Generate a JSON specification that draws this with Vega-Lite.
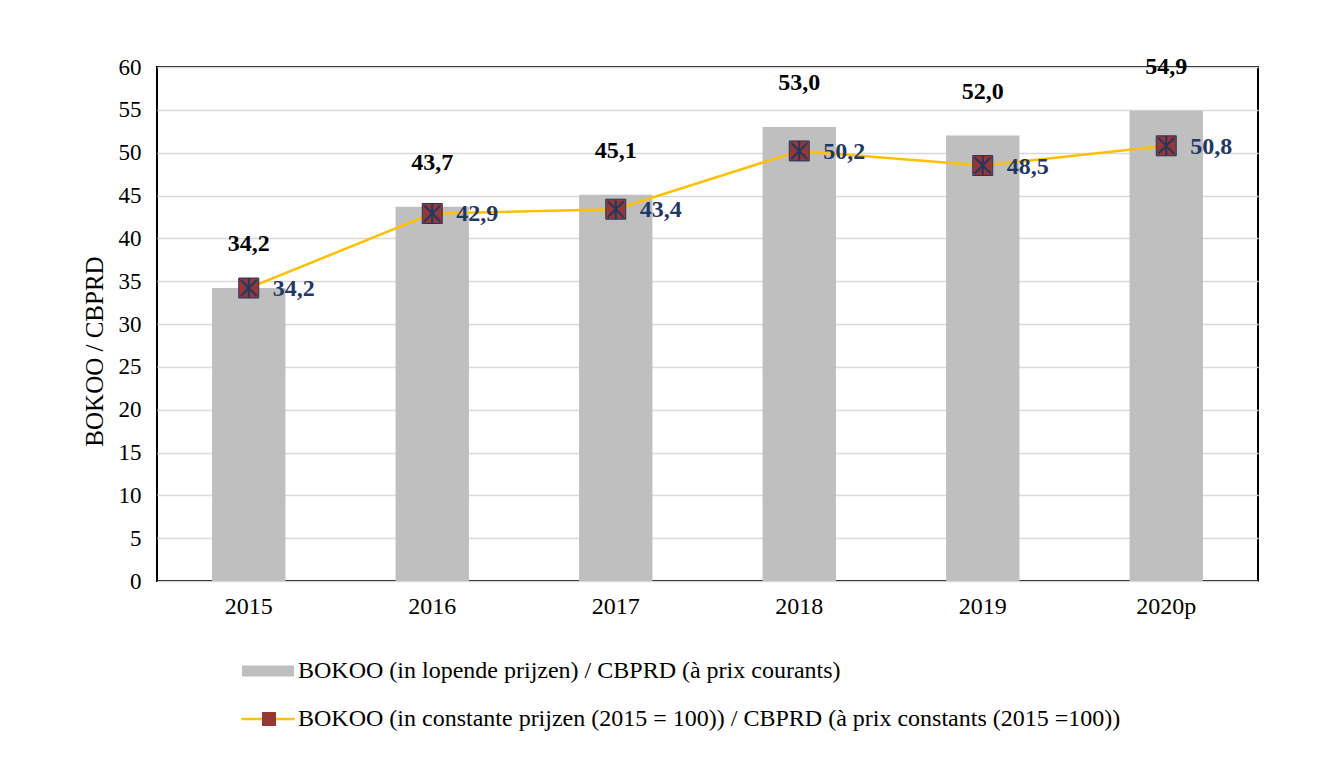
{
  "$schema": "https://vega.github.io/schema/vega-lite/v6.json",
  "autosize": "none",
  "width": 1101,
  "height": 514,
  "padding": {"left": 157, "top": 67, "right": 70, "bottom": 188},
  "background": "white",
  "config": {
    "font": "Liberation Serif",
    "view": {"stroke": "black", "strokeWidth": 2},
    "axis": {"labelFont": "Liberation Serif", "titleFont": "Liberation Serif", "labelColor": "black", "titleColor": "black"},
    "axisY": {"title": "BOKOO / CBPRD", "titleFontSize": 25, "titleFontWeight": "normal", "titlePadding": 11, "titleY": 284, "labelFontSize": 23, "labelPadding": 16, "ticks": false, "domain": false, "gridColor": "#D9D9D9", "gridWidth": 1.5},
    "legend": {"labelFont": "Liberation Serif", "labelColor": "black"}
  },
  "data": {
    "values": [
      {"year": "2015", "current": 34.2, "constant": 34.2, "cl": "34,2", "kl": "34,2"},
      {"year": "2016", "current": 43.7, "constant": 42.9, "cl": "43,7", "kl": "42,9"},
      {"year": "2017", "current": 45.1, "constant": 43.4, "cl": "45,1", "kl": "43,4"},
      {"year": "2018", "current": 53.0, "constant": 50.2, "cl": "53,0", "kl": "50,2"},
      {"year": "2019", "current": 52.0, "constant": 48.5, "cl": "52,0", "kl": "48,5"},
      {"year": "2020p", "current": 54.9, "constant": 50.8, "cl": "54,9", "kl": "50,8"}
    ]
  },
  "encoding": {
    "x": {
      "field": "year", "type": "nominal", "sort": null,
      "scale": {"paddingInner": 0.6, "paddingOuter": 0.3},
      "axis": {"title": null, "labelAngle": 0, "labelFontSize": 24, "labelPadding": 13, "ticks": false, "domain": false, "grid": false}
    }
  },
  "layer": [
    {
      "mark": {"type": "bar"},
      "encoding": {
        "y": {
          "field": "current", "type": "quantitative",
          "scale": {"domain": [0, 60]},
          "axis": {"title": "BOKOO / CBPRD", "values": [0,5,10,15,20,25,30,35,40,45,50,55,60]}
        },
        "fill": {
          "datum": "BOKOO (in lopende prijzen) / CBPRD (à prix courants)",
          "scale": {"range": ["#BFBFBF"]},
          "legend": {"title": null, "orient": "none", "legendX": 99, "legendY": 592, "padding": 0, "symbolType": "M-5.2,-1.1H5.2V1.1H-5.2Z", "symbolSize": 100, "symbolStrokeWidth": 0, "labelFontSize": 24, "labelOffset": 18, "labelLimit": 1000}
        }
      }
    },
    {
      "mark": {"type": "text", "fontWeight": "bold", "fontSize": 24, "baseline": "middle", "dy": -44, "color": "black"},
      "encoding": {
        "y": {"field": "current", "type": "quantitative", "axis": {"title": "BOKOO / CBPRD", "values": [0,5,10,15,20,25,30,35,40,45,50,55,60]}},
        "text": {"field": "cl"}
      }
    },
    {
      "mark": {"type": "line", "strokeWidth": 2.5},
      "encoding": {
        "y": {"field": "constant", "type": "quantitative", "axis": {"title": "BOKOO / CBPRD", "values": [0,5,10,15,20,25,30,35,40,45,50,55,60]}},
        "stroke": {
          "datum": "BOKOO (in constante prijzen (2015 = 100)) / CBPRD (à prix constants (2015 =100))",
          "scale": {"range": ["#FFC000"]},
          "legend": {"title": null, "orient": "none", "legendX": 99, "legendY": 640, "padding": 0, "symbolType": "M-5.3,0H5.3", "symbolSize": 100, "symbolStrokeWidth": 2.5, "labelFontSize": 24, "labelOffset": 18, "labelLimit": 1000}
        }
      }
    },
    {
      "mark": {"type": "point", "filled": true, "fill": "#953735", "stroke": "#1F3864", "strokeWidth": 1, "size": 400, "opacity": 1},
      "encoding": {
        "y": {"field": "constant", "type": "quantitative", "axis": {"title": "BOKOO / CBPRD", "values": [0,5,10,15,20,25,30,35,40,45,50,55,60]}},
        "shape": {
          "datum": "marker",
          "scale": {"range": ["square"]},
          "legend": {"title": null, "orient": "none", "legendX": 100, "legendY": 640, "padding": 0, "symbolSize": 196, "symbolFillColor": "#953735", "symbolStrokeColor": "#1F3864", "symbolStrokeWidth": 1, "labelFontSize": 24, "labelExpr": "''"}
        }
      }
    },
    {
      "mark": {"type": "point", "filled": false, "shape": "M-0.8,-0.8L0.8,0.8M0.8,-0.8L-0.8,0.8M0,-1L0,1", "stroke": "#1F3864", "strokeWidth": 2, "size": 400, "opacity": 1},
      "encoding": {
        "y": {"field": "constant", "type": "quantitative", "axis": {"title": "BOKOO / CBPRD", "values": [0,5,10,15,20,25,30,35,40,45,50,55,60]}}
      }
    },
    {
      "mark": {"type": "text", "fontWeight": "bold", "fontSize": 24, "baseline": "middle", "align": "left", "dx": 24, "dy": 1, "color": "#1F3864"},
      "encoding": {
        "y": {"field": "constant", "type": "quantitative", "axis": {"title": "BOKOO / CBPRD", "values": [0,5,10,15,20,25,30,35,40,45,50,55,60]}},
        "text": {"field": "kl"}
      }
    }
  ]
}
